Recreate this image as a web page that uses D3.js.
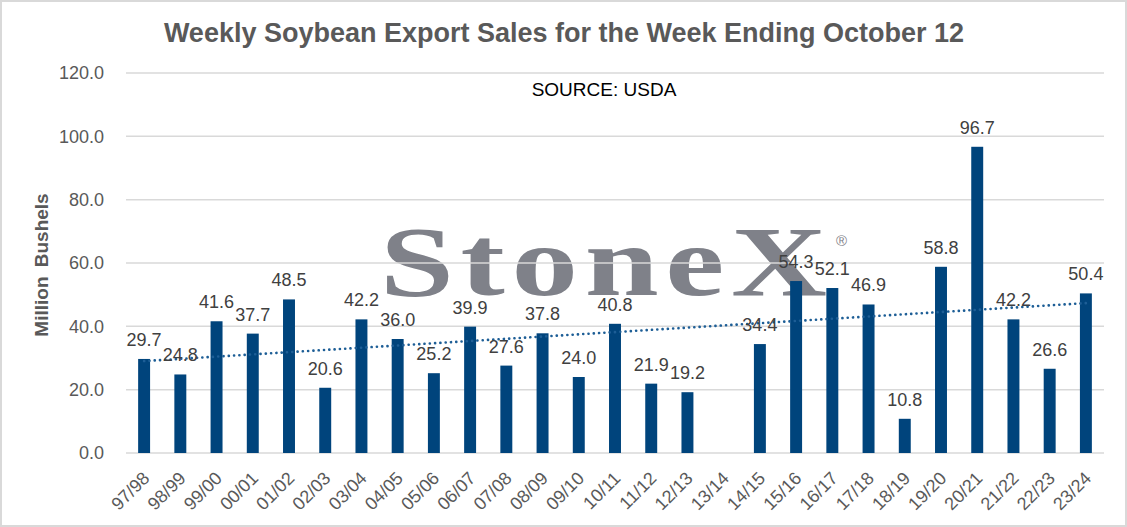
<!DOCTYPE html>
<html>
<head>
<meta charset="utf-8">
<script src="https://cdn.jsdelivr.net/npm/d3@7"></script>
<style>
  html, body { margin: 0; padding: 0; background: #fff; }
  svg { display: block; font-family: Arial, "Liberation Sans", sans-serif; }
</style>
</head>
<body>
<svg id="chart" width="1127" height="527"></svg>
<script>
// marketing years
const seasons = ["97/98", "98/99", "99/00", "00/01", "01/02", "02/03", "03/04", "04/05",
                 "05/06", "06/07", "07/08", "08/09", "09/10", "10/11", "11/12", "12/13",
                 "13/14", "14/15", "15/16", "16/17", "17/18", "18/19", "19/20", "20/21",
                 "21/22", "22/23", "23/24"];
// million bushels, week ending Oct 12 (13/14 has no value)
const sales = [29.7, 24.8, 41.6, 37.7, 48.5, 20.6, 42.2, 36.0, 25.2, 39.9, 27.6, 37.8,
               24.0, 40.8, 21.9, 19.2, null, 34.4, 54.3, 52.1, 46.9, 10.8, 58.8, 96.7,
               42.2, 26.6, 50.4];
const yTicks = [0, 20, 40, 60, 80, 100, 120];

const svg = d3.select("svg#chart");
const width = 1127, height = 527;
const plot = { left: 126, right: 1104, top: 73, bottom: 453 };

svg.append("rect")
   .attr("x", 1).attr("y", 1)
   .attr("width", width - 2).attr("height", height - 2)
   .attr("fill", "#fff")
   .attr("stroke", "#d9d9d9").attr("stroke-width", 2);

const x = d3.scaleBand()
            .domain(seasons)
            .range([plot.left, plot.right])
            .paddingInner(0.67)
            .paddingOuter(0.335);
const y = d3.scaleLinear()
            .domain([0, 120])
            .range([plot.bottom, plot.top]);

// watermark sits behind the grid
const wm = svg.append("g").attr("fill", "#7f8189");
wm.append("text")
  .attr("transform", "translate(380,295) scale(1.33,1)")
  .style("font-family", "'Liberation Serif', 'DejaVu Serif', serif")
  .style("font-weight", "bold")
  .style("font-size", "100px")
  .style("letter-spacing", "5px")
  .text("StoneX");
wm.append("text")
  .attr("x", 836).attr("y", 246)
  .style("font-size", "15px")
  .text("®");

// grid
svg.append("g")
   .selectAll("line")
   .data(yTicks)
   .join("line")
   .attr("x1", plot.left).attr("x2", plot.right)
   .attr("y1", d => y(d)).attr("y2", d => y(d))
   .attr("stroke", "#d9d9d9")
   .attr("stroke-width", 1.5);

// y axis
const yAxis = svg.append("g")
                 .attr("transform", `translate(${plot.left - 22},0)`)
                 .call(d3.axisLeft(y).tickValues(yTicks).tickFormat(d3.format(".1f")).tickSize(0).tickPadding(0));
yAxis.select(".domain").remove();
yAxis.selectAll("text")
     .attr("fill", "#595959")
     .style("font-size", "18px")
     .style("font-family", "Arial, 'Liberation Sans', sans-serif");

// x axis labels
const xAxis = svg.append("g")
                 .attr("transform", `translate(0,${plot.bottom})`)
                 .call(d3.axisBottom(x).tickSize(0).tickPadding(0));
xAxis.select(".domain").remove();
xAxis.selectAll("text")
     .attr("fill", "#595959")
     .style("font-size", "18px")
     .style("font-family", "Arial, 'Liberation Sans', sans-serif")
     .attr("text-anchor", "end")
     .attr("dy", "0.35em")
     .attr("transform", "translate(2,22) rotate(-45)");

// bars
const rows = seasons.map((s, i) => ({ season: s, value: sales[i] }))
                    .filter(d => d.value !== null);

svg.append("g")
   .attr("fill", "#00447c")
   .selectAll("rect")
   .data(rows)
   .join("rect")
   .attr("x", d => x(d.season))
   .attr("width", x.bandwidth())
   .attr("y", d => y(d.value))
   .attr("height", d => y(0) - y(d.value));

// linear trendline (least squares over the years that have a value)
const pts = seasons.map((s, i) => [i + 1, sales[i]]).filter(p => p[1] !== null);
const mx = d3.mean(pts, p => p[0]), my = d3.mean(pts, p => p[1]);
const slope = d3.sum(pts, p => (p[0] - mx) * (p[1] - my)) / d3.sum(pts, p => (p[0] - mx) ** 2);
const trend = i => my + slope * (i - mx);
const cx = s => x(s) + x.bandwidth() / 2;

svg.append("line")
   .attr("x1", cx(seasons[0]))
   .attr("y1", y(trend(1)))
   .attr("x2", cx(seasons[seasons.length - 1]))
   .attr("y2", y(trend(seasons.length)))
   .attr("stroke", "#1d5e96")
   .attr("stroke-width", 2.6)
   .attr("stroke-linecap", "round")
   .attr("stroke-dasharray", "0.1 5.2");

// value labels
svg.append("g")
   .attr("text-anchor", "middle")
   .attr("fill", "#404040")
   .style("font-size", "18px")
   .selectAll("text")
   .data(rows)
   .join("text")
   .attr("x", d => cx(d.season))
   .attr("y", d => y(d.value) - 13)
   .text(d => d3.format(".1f")(d.value));

// titles
svg.append("text")
   .attr("x", 564).attr("y", 42)
   .attr("text-anchor", "middle")
   .attr("fill", "#595959")
   .style("font-size", "27px")
   .style("font-weight", "bold")
   .text("Weekly Soybean Export Sales for the Week Ending October 12");

svg.append("text")
   .attr("x", 604).attr("y", 96)
   .attr("text-anchor", "middle")
   .attr("fill", "#000")
   .style("font-size", "19px")
   .text("SOURCE: USDA");

svg.append("text")
   .attr("transform", "translate(48,265) rotate(-90)")
   .attr("text-anchor", "middle")
   .attr("fill", "#595959")
   .style("font-size", "19px")
   .style("font-weight", "bold")
   .style("word-spacing", "4px")
   .text("Million Bushels");
</script>
</body>
</html>
